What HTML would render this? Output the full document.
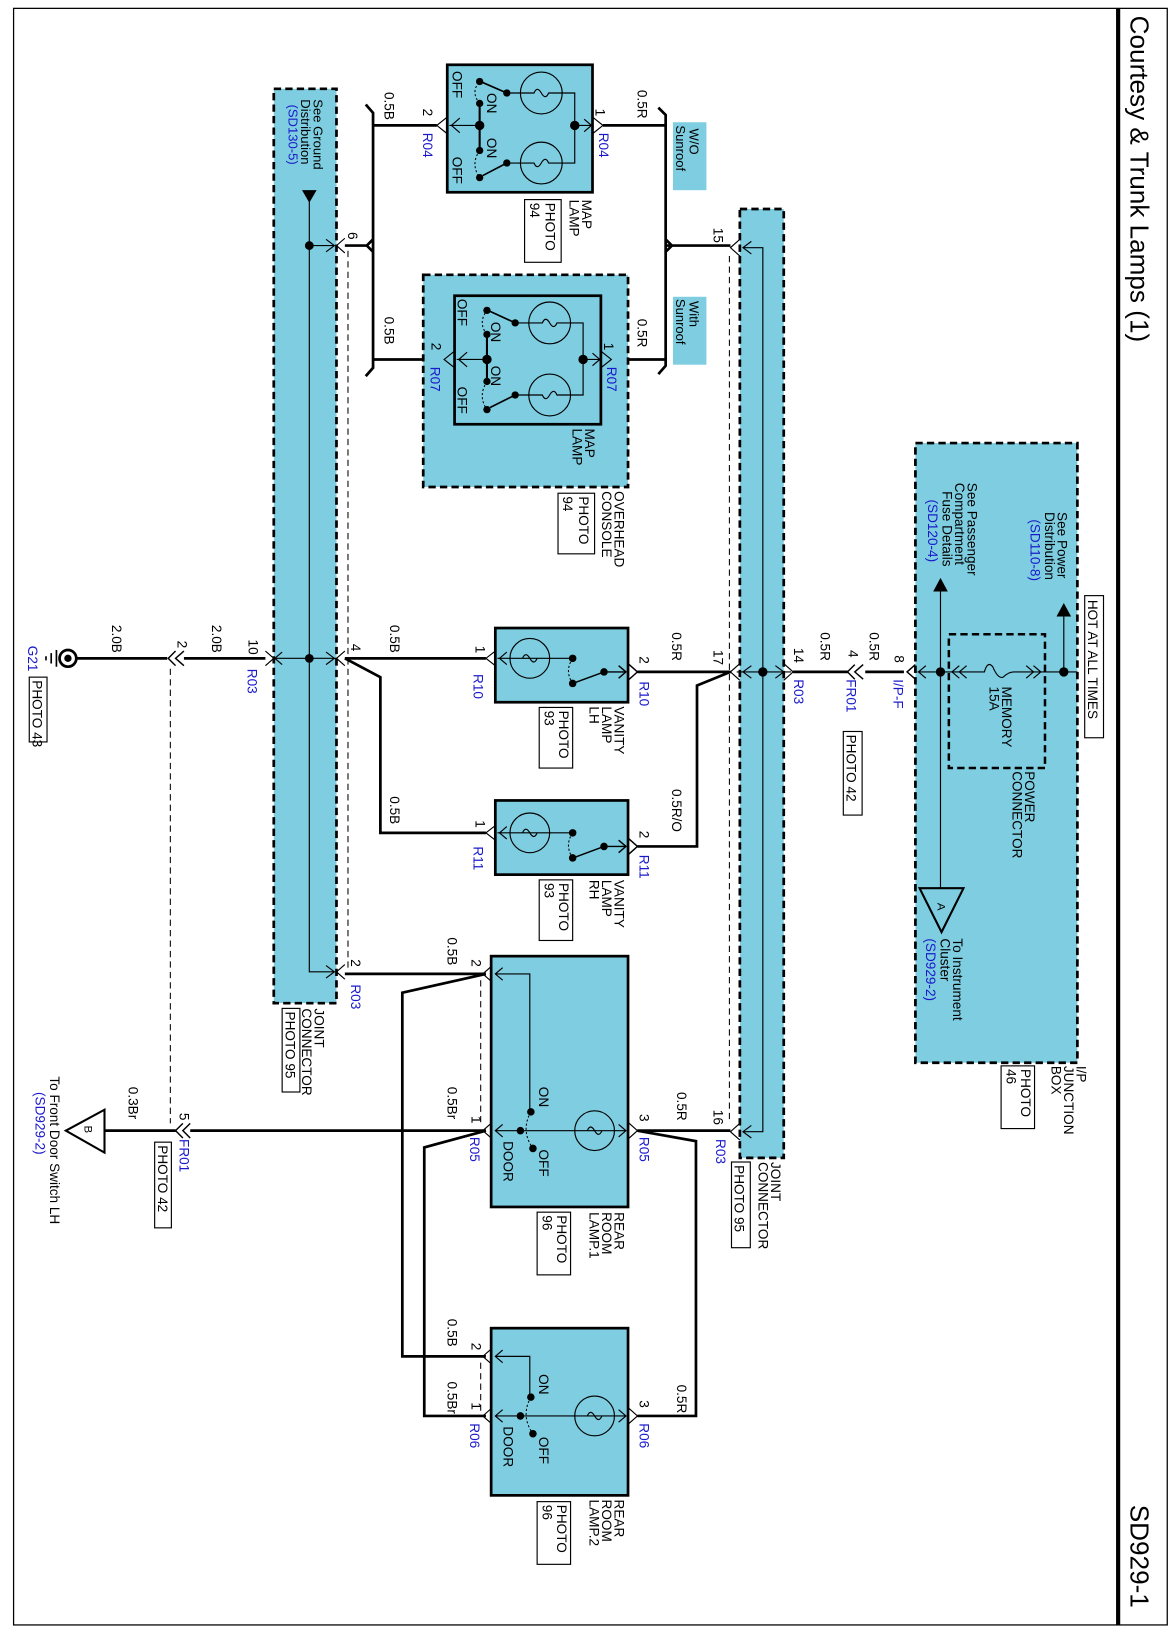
<!DOCTYPE html>
<html><head><meta charset="utf-8"><style>
html,body{margin:0;padding:0;background:#fff;}
svg{display:block;}
text{font-family:"Liberation Sans",sans-serif;font-size:13px;fill:#000;}
.b{fill:#1a1acc;}
.w{stroke:#000;stroke-width:2.6;fill:none;}
.t{stroke:#000;stroke-width:1.1;fill:none;}
.d{stroke:#000;stroke-width:1;fill:none;stroke-dasharray:6,4;}
.box{fill:#7ecde0;stroke:#000;stroke-width:2.6;}
.dbox{fill:#7ecde0;stroke:#000;stroke-width:2.6;stroke-dasharray:7,4;}
.pb{fill:#fff;stroke:#000;stroke-width:1.1;}
</style></head><body>
<svg width="1173" height="1638" viewBox="0 0 1122.5 1567.5" preserveAspectRatio="none" xmlns="http://www.w3.org/2000/svg">
<rect x="13" y="8" width="1104" height="1547" fill="none" stroke="#000" stroke-width="1.2"/>
<line x1="1070" y1="8" x2="1070" y2="1555" stroke="#000" stroke-width="4"/>
<text transform="translate(1082 15) rotate(90)" style="font-size:25px">Courtesy &amp; Trunk Lamps (1)</text>
<text transform="translate(1082 1440) rotate(90)" style="font-size:25px">SD929-1</text>

<!-- Left joint connector -->
<rect class="dbox" x="262" y="85" width="60" height="875"/>
<path class="t" d="M296 190 L296 930 L320 930 M296 235 L320 235 M262 630 L322 630"/>
<path class="t" d="M312 229 L320 235 L312 241 M312 624 L320 630 L312 636 M312 924 L320 930 L312 936 M270 624 L263 630 L270 636"/>
<polygon points="289,182 303,182 296,194" fill="#000"/>
<circle cx="296" cy="235" r="4.2"/><circle cx="296" cy="630" r="4.2"/>
<text transform="translate(300 95) rotate(90)" style="font-size:12.5px">See Ground</text>
<text transform="translate(288 95) rotate(90)" style="font-size:12.5px">Distribution</text>
<text class="b" transform="translate(276 100) rotate(90)" style="font-size:12.5px">(SD130-5)</text>
<line class="d" x1="333" y1="240" x2="333" y2="930"/>
<text transform="translate(301 965) rotate(90)">JOINT</text>
<text transform="translate(289 965) rotate(90)">CONNECTOR</text>
<rect class="pb" x="270" y="965" width="17" height="80"/>
<text transform="translate(273 968) rotate(90)">PHOTO 95</text>

<!-- left connectors outer -->
<path class="t" d="M330 228 L322 235 L330 242 M330 623 L322 630 L330 637 M330 923 L322 930 L330 937"/>
<path class="t" d="M254 623 L262 630 L254 637"/>
<path class="w" d="M330 235 L351 235 M351 235 L357 229 M351 235 L357 241"/>
<path class="w" d="M350 100 L357 108 L357 352 L350 360 M357 120 L418 120 M357 344 L425 344"/>
<text transform="translate(333 222) rotate(90)">6</text>
<text transform="translate(368 88) rotate(90)">0.5B</text>
<text transform="translate(368 303) rotate(90)">0.5B</text>

<!-- MAP LAMP R04 -->
<rect class="box" x="428" y="62" width="139" height="122"/>
<path class="t" d="M428 112 L418 120 L428 128 M440 113 L432 120 L440 127 M430 120 L459 120"/>
<path class="w" d="M459 99 L459 144" style="stroke-width:2"/>
<circle cx="459" cy="120" r="4.5"/>
<circle cx="459" cy="99" r="3.5"/><circle cx="459" cy="144" r="3.5"/><circle cx="459" cy="78" r="3.5"/><circle cx="459" cy="170" r="3.5"/>
<circle cx="485" cy="89" r="3.5"/><circle cx="485" cy="156" r="3.5"/>
<path class="t" d="M485 89 L462 79 M485 156 L462 168" style="stroke-width:1.6"/>
<path class="d" d="M459 99 Q450 88 459 78 M459 144 Q450 157 459 170" style="stroke-dasharray:2,2"/>
<circle class="t" cx="518" cy="89" r="20"/><circle class="t" cx="518" cy="156" r="20"/>
<path class="t" d="M485 89 L511 89 Q514 82 518 89 Q522 96 525 89 L550 89 L550 156 L525 156 Q522 149 518 156 Q514 163 511 156 L485 156 M550 120 L566 120"/>
<circle cx="550" cy="120" r="4.5"/>
<path class="t" d="M559 114 L566 120 L559 126 M567 112 L577 120 L567 128"/>
<text transform="translate(433 68) rotate(90)">OFF</text>
<text transform="translate(466 89) rotate(90)">ON</text>
<text transform="translate(466 132) rotate(90)">ON</text>
<text transform="translate(433 150) rotate(90)">OFF</text>
<text transform="translate(405 104) rotate(90)">2</text>
<text class="b" transform="translate(405 127) rotate(90)">R04</text>
<text transform="translate(570 104) rotate(90)">1</text>
<text class="b" transform="translate(573 127) rotate(90)">R04</text>
<text transform="translate(610 86) rotate(90)">0.5R</text>
<text transform="translate(557 191) rotate(90)">MAP</text>
<text transform="translate(545 191) rotate(90)">LAMP</text>
<rect class="pb" x="502" y="191" width="35" height="60"/>
<text transform="translate(522 194) rotate(90)">PHOTO</text>
<text transform="translate(507 194) rotate(90)">94</text>

<!-- right wiring top -->
<path class="w" d="M577 120 L637 120 M630 103 L637 110 L637 350 L630 358 M585 344 L637 344"/>
<path class="w" d="M637 235 L643 235 L699 235 M637 229 L643 235 L637 241"/>
<rect x="644" y="117" width="32" height="65" fill="#7ecde0"/>
<text transform="translate(660 123) rotate(90)" style="font-size:12.5px">W/O</text>
<text transform="translate(647 120) rotate(90)" style="font-size:12.5px">Sunroof</text>
<rect x="644" y="284" width="32" height="65" fill="#7ecde0"/>
<text transform="translate(660 288) rotate(90)" style="font-size:12.5px">With</text>
<text transform="translate(647 286) rotate(90)" style="font-size:12.5px">Sunroof</text>

<!-- Overhead console -->
<rect class="dbox" x="405" y="263" width="196" height="203"/>
<rect class="box" x="435" y="283" width="140" height="123"/>
<path class="t" d="M435 336 L425 344 L435 352 M447 337 L439 344 L447 351 M437 344 L466 344"/>
<path class="w" d="M466 320 L466 365" style="stroke-width:2"/>
<circle cx="466" cy="344" r="4.5"/>
<circle cx="466" cy="320" r="3.5"/><circle cx="466" cy="365" r="3.5"/><circle cx="466" cy="297" r="3.5"/><circle cx="466" cy="392" r="3.5"/>
<circle cx="493" cy="309" r="3.5"/><circle cx="493" cy="378" r="3.5"/>
<path class="t" d="M493 309 L469 298 M493 378 L469 390" style="stroke-width:1.6"/>
<path class="d" d="M466 320 Q457 309 466 297 M466 365 Q457 379 466 392" style="stroke-dasharray:2,2"/>
<circle class="t" cx="526" cy="309" r="20"/><circle class="t" cx="526" cy="378" r="20"/>
<path class="t" d="M493 309 L519 309 Q522 302 526 309 Q530 316 533 309 L558 309 L558 378 L533 378 Q530 371 526 378 Q522 385 519 378 L493 378 M558 344 L574 344"/>
<circle cx="558" cy="344" r="4.5"/>
<path class="t" d="M567 338 L574 344 L567 350 M575 336 L585 344 L575 352"/>
<text transform="translate(438 286) rotate(90)">OFF</text>
<text transform="translate(470 308) rotate(90)">ON</text>
<text transform="translate(470 350) rotate(90)">ON</text>
<text transform="translate(438 370) rotate(90)">OFF</text>
<text transform="translate(413 328) rotate(90)">2</text>
<text class="b" transform="translate(412 351) rotate(90)">R07</text>
<text transform="translate(578 328) rotate(90)">1</text>
<text class="b" transform="translate(581 351) rotate(90)">R07</text>
<text transform="translate(610 305) rotate(90)">0.5R</text>
<text transform="translate(560 410) rotate(90)">MAP</text>
<text transform="translate(548 410) rotate(90)">LAMP</text>
<text transform="translate(588 470) rotate(90)">OVERHEAD</text>
<text transform="translate(576 470) rotate(90)">CONSOLE</text>
<rect class="pb" x="534" y="472" width="35" height="58"/>
<text transform="translate(554 475) rotate(90)">PHOTO</text>
<text transform="translate(539 475) rotate(90)">94</text>

<!-- Right joint connector -->
<rect class="dbox" x="708" y="200" width="42" height="908"/>
<path class="t" d="M712 237 L730 237 L730 1083 L712 1083 M705 643 L757 643"/>
<path class="t" d="M719 231 L711 237 L719 243 M719 637 L711 643 L719 649 M719 1077 L711 1083 L719 1089 M742 637 L750 643 L742 649"/>
<circle cx="730" cy="643" r="4.5"/>
<path class="t" d="M708 229 L699 237 L708 245 M708 635 L699 643 L708 651 M708 1075 L699 1083 L708 1091 M750 635 L759 643 L750 651"/>
<line class="d" x1="698" y1="245" x2="698" y2="1075"/>
<text transform="translate(683 218) rotate(90)">15</text>
<text transform="translate(683 622) rotate(90)">17</text>
<text transform="translate(683 1062) rotate(90)">16</text>
<text class="b" transform="translate(685 1090) rotate(90)">R03</text>
<text transform="translate(760 620) rotate(90)">14</text>
<text class="b" transform="translate(760 650) rotate(90)">R03</text>
<text transform="translate(738 1112) rotate(90)">JOINT</text>
<text transform="translate(726 1112) rotate(90)">CONNECTOR</text>
<rect class="pb" x="700" y="1112" width="18" height="82"/>
<text transform="translate(703 1115) rotate(90)">PHOTO 95</text>

<!-- Vanity LH -->
<rect class="box" x="474" y="601" width="127" height="71"/>
<path class="t" d="M474 623 L465 630 L474 637 M485 624 L478 630 L485 636 M476 630 L548 630"/>
<circle class="t" cx="507" cy="630" r="19" style="fill:none"/>
<path class="t" d="M500 630 Q503 623 507 630 Q511 637 514 630"/>
<circle cx="548" cy="630" r="3.6"/><circle cx="578" cy="643" r="3.6"/><circle cx="548" cy="654" r="3.6"/>
<path class="t" d="M578 643 L551 653 M578 643 L599 643 M592 637 L599 643 L592 649 M601 635 L610 643 L601 651" style="stroke-width:1.4"/>
<path class="d" d="M548 630 Q540 642 548 654" style="stroke-dasharray:2,2"/>
<text transform="translate(455 618) rotate(90)">1</text>
<text class="b" transform="translate(453 645) rotate(90)">R10</text>
<text transform="translate(612 628) rotate(90)">2</text>
<text class="b" transform="translate(612 652) rotate(90)">R10</text>
<text transform="translate(588 676) rotate(90)">VANITY</text>
<text transform="translate(576 676) rotate(90)">LAMP</text>
<text transform="translate(564 676) rotate(90)">LH</text>
<rect class="pb" x="516" y="677" width="32" height="58"/>
<text transform="translate(535 680) rotate(90)">PHOTO</text>
<text transform="translate(521 680) rotate(90)">93</text>

<!-- Vanity RH -->
<rect class="box" x="474" y="766" width="127" height="71"/>
<path class="t" d="M474 790 L465 797 L474 804 M485 791 L478 797 L485 803 M476 797 L548 797"/>
<circle class="t" cx="507" cy="797" r="19"/>
<path class="t" d="M500 797 Q503 790 507 797 Q511 804 514 797"/>
<circle cx="548" cy="797" r="3.6"/><circle cx="578" cy="810" r="3.6"/><circle cx="548" cy="821" r="3.6"/>
<path class="t" d="M578 810 L551 820 M578 810 L599 810 M592 804 L599 810 L592 816 M601 802 L610 810 L601 818" style="stroke-width:1.4"/>
<path class="d" d="M548 797 Q540 809 548 821" style="stroke-dasharray:2,2"/>
<text transform="translate(455 785) rotate(90)">1</text>
<text class="b" transform="translate(453 810) rotate(90)">R11</text>
<text transform="translate(612 795) rotate(90)">2</text>
<text class="b" transform="translate(612 818) rotate(90)">R11</text>
<text transform="translate(588 842) rotate(90)">VANITY</text>
<text transform="translate(576 842) rotate(90)">LAMP</text>
<text transform="translate(564 842) rotate(90)">RH</text>
<rect class="pb" x="516" y="842" width="32" height="58"/>
<text transform="translate(535 845) rotate(90)">PHOTO</text>
<text transform="translate(521 845) rotate(90)">93</text>

<!-- vanity wiring -->
<path class="w" d="M610 643 L699 643 M699 643 L667 656 L667 810 L610 810"/>
<path class="w" d="M330 630 L465 630 M330 630 L364 648 L364 797 L465 797"/>
<text transform="translate(643 605) rotate(90)">0.5R</text>
<text transform="translate(643 755) rotate(90)">0.5R/O</text>
<text transform="translate(373 598) rotate(90)">0.5B</text>
<text transform="translate(373 762) rotate(90)">0.5B</text>
<text transform="translate(336 616) rotate(90)">4</text>

<!-- power feed -->
<path class="w" d="M759 643 L812 643 M828 643 L865 643"/>
<path class="t" d="M826 636 L818 643 L826 650 M818 636 L811 643 L818 650" style="stroke-width:1.4"/>
<path class="t" d="M876 636 L868 643 L876 650" style="stroke-width:1.4"/>
<text transform="translate(785 605) rotate(90)">0.5R</text>
<text transform="translate(812 622) rotate(90)">4</text>
<text class="b" transform="translate(810 650) rotate(90)">FR01</text>
<rect class="pb" x="807" y="700" width="18" height="80"/>
<text transform="translate(810 703) rotate(90)">PHOTO 42</text>
<text transform="translate(832 605) rotate(90)">0.5R</text>
<text transform="translate(856 627) rotate(90)">8</text>
<text class="b" transform="translate(855 650) rotate(90)">I/P-F</text>

<!-- I/P junction box -->
<rect class="dbox" x="876" y="424" width="155" height="593"/>
<rect x="908" y="607" width="92" height="128" fill="none" stroke="#000" stroke-width="2.4" stroke-dasharray="7,4"/>
<path class="t" d="M878 643 L942 643 Q945 632 950 638 Q955 650 960 648 Q965 643 970 643 L1031 643 M900 555 L900 850 M1018 580 L1018 643"/>
<path class="t" d="M886 637 L879 643 L886 649 M918 637 L911 643 L918 649 M925 637 L918 643 L925 649 M982 637 L989 643 L982 649 M989 637 L996 643 L989 649"/>
<circle cx="900" cy="643" r="4.5"/><circle cx="1018" cy="643" r="4.5"/>
<polygon points="893,566 907,566 900,553" fill="#000"/>
<polygon points="1011,590 1025,590 1018,577" fill="#000"/>
<polygon points="880,850 922,850 901,892" fill="none" stroke="#000" stroke-width="2"/>
<text transform="translate(897 864) rotate(90)" style="font-size:11px">A</text>
<text transform="translate(1012 490) rotate(90)">See Power</text>
<text transform="translate(1000 490) rotate(90)">Distribution</text>
<text class="b" transform="translate(986 497) rotate(90)">(SD110-8)</text>
<text transform="translate(926 462) rotate(90)">See Passenger</text>
<text transform="translate(914 462) rotate(90)">Compartment</text>
<text transform="translate(902 470) rotate(90)">Fuse Details</text>
<text class="b" transform="translate(888 478) rotate(90)">(SD120-4)</text>
<text transform="translate(959 657) rotate(90)">MEMORY</text>
<text transform="translate(947 657) rotate(90)">15A</text>
<text transform="translate(981 738) rotate(90)">POWER</text>
<text transform="translate(969 738) rotate(90)">CONNECTOR</text>
<text transform="translate(912 898) rotate(90)">To Instrument</text>
<text transform="translate(900 898) rotate(90)">Cluster</text>
<text class="b" transform="translate(886 898) rotate(90)">(SD929-2)</text>
<rect class="pb" x="1038" y="570" width="18" height="136"/>
<text transform="translate(1041 574) rotate(90)">HOT AT ALL TIMES</text>
<text transform="translate(1030 1020) rotate(90)">I/P</text>
<text transform="translate(1018 1020) rotate(90)">JUNCTION</text>
<text transform="translate(1006 1020) rotate(90)">BOX</text>
<rect class="pb" x="958" y="1020" width="32" height="60"/>
<text transform="translate(977 1023) rotate(90)">PHOTO</text>
<text transform="translate(963 1023) rotate(90)">46</text>

<!-- Ground -->
<path class="w" d="M72 630 L160 630 M176 630 L254 630"/>
<path class="t" d="M176 623 L168 630 L176 637 M168 623 L161 630 L168 637" style="stroke-width:1.4"/>
<circle cx="65" cy="630" r="8" fill="#fff" stroke="#000" stroke-width="2.6"/>
<circle cx="65" cy="630" r="3.5"/>
<path class="t" d="M54 622 L54 638 M49 625 L49 635 M44 628 L44 632" style="stroke-width:1.6"/>
<text class="b" transform="translate(27 618) rotate(90)">G21</text>
<rect class="pb" x="28" y="648" width="17" height="62"/>
<text transform="translate(31 651) rotate(90)">PHOTO 43</text>
<text transform="translate(107 598) rotate(90)">2.0B</text>
<text transform="translate(203 598) rotate(90)">2.0B</text>
<text transform="translate(170 613) rotate(90)">2</text>
<text transform="translate(238 612) rotate(90)">10</text>
<text class="b" transform="translate(237 640) rotate(90)">R03</text>
<line class="d" x1="163" y1="640" x2="163" y2="1075"/>

<!-- Rear room wiring -->
<path class="w" d="M330 932 L465 932 M465 932 L385 950 L385 1298 L465 1298"/>
<path class="w" d="M465 1082 L406 1098 L406 1355 L465 1355"/>
<path class="w" d="M100 1082 L168 1082 M182 1082 L465 1082"/>
<path class="t" d="M182 1075 L175 1082 L182 1089 M175 1075 L168 1082 L175 1089" style="stroke-width:1.4"/>
<path class="w" d="M610 1082 L699 1082 M610 1082 L666 1092 L666 1355 L610 1355"/>
<text transform="translate(336 918) rotate(90)">2</text>
<text class="b" transform="translate(336 942) rotate(90)">R03</text>
<text transform="translate(428 897) rotate(90)">0.5B</text>
<text transform="translate(428 1040) rotate(90)">0.5Br</text>
<text transform="translate(428 1262) rotate(90)">0.5B</text>
<text transform="translate(428 1322) rotate(90)">0.5Br</text>
<text transform="translate(648 1045) rotate(90)">0.5R</text>
<text transform="translate(648 1325) rotate(90)">0.5R</text>
<text transform="translate(123 1040) rotate(90)">0.3Br</text>
<text transform="translate(172 1065) rotate(90)">5</text>
<text class="b" transform="translate(172 1090) rotate(90)">FR01</text>
<rect class="pb" x="148" y="1093" width="16" height="82"/>
<text transform="translate(151 1096) rotate(90)">PHOTO 42</text>
<polygon points="100,1062 100,1103 63,1082" fill="#fff" stroke="#000" stroke-width="2"/>
<text transform="translate(81 1077) rotate(90)" style="font-size:11px">B</text>
<text transform="translate(48 1030) rotate(90)">To Front Door Switch LH</text>
<text class="b" transform="translate(34 1045) rotate(90)">(SD929-2)</text>

<!-- Rear room lamp 1 -->
<rect class="box" x="470" y="915" width="131" height="240"/>
<line class="d" x1="460" y1="938" x2="460" y2="1078"/>
<path class="t" d="M470 925 L462 932 L470 939 M481 926 L474 932 L481 938 M474 932 L507 932 L507 1064"/>
<path class="t" d="M470 1075 L462 1082 L470 1089 M481 1076 L474 1082 L481 1088 M474 1082 L599 1082 M592 1076 L599 1082 L592 1088 M601 1074 L610 1082 L601 1090"/>
<circle class="t" cx="569" cy="1082" r="19"/>
<path class="t" d="M562 1082 Q565 1075 569 1082 Q573 1089 576 1082"/>
<circle cx="498" cy="1082" r="3.6"/><circle cx="508" cy="1064" r="3.6"/><circle cx="510" cy="1099" r="3.6"/>
<path class="d" d="M508 1064 Q498 1082 510 1099" style="stroke-dasharray:2,2"/>
<text transform="translate(516 1040) rotate(90)">ON</text>
<text transform="translate(516 1100) rotate(90)">OFF</text>
<text transform="translate(482 1092) rotate(90)">DOOR</text>
<text transform="translate(451 918) rotate(90)">2</text>
<text transform="translate(451 1068) rotate(90)">1</text>
<text class="b" transform="translate(450 1088) rotate(90)">R05</text>
<text transform="translate(612 1066) rotate(90)">3</text>
<text class="b" transform="translate(612 1088) rotate(90)">R05</text>
<text transform="translate(588 1160) rotate(90)">REAR</text>
<text transform="translate(576 1160) rotate(90)">ROOM</text>
<text transform="translate(564 1160) rotate(90)">LAMP.1</text>
<rect class="pb" x="514" y="1160" width="32" height="60"/>
<text transform="translate(533 1163) rotate(90)">PHOTO</text>
<text transform="translate(519 1163) rotate(90)">96</text>

<!-- Rear room lamp 2 -->
<rect class="box" x="470" y="1271" width="131" height="160"/>
<line class="d" x1="460" y1="1304" x2="460" y2="1350"/>
<path class="t" d="M470 1291 L462 1298 L470 1305 M481 1292 L474 1298 L481 1304 M474 1298 L507 1298 L507 1337"/>
<path class="t" d="M470 1348 L462 1355 L470 1362 M481 1349 L474 1355 L481 1361 M474 1355 L599 1355 M592 1349 L599 1355 L592 1361 M601 1347 L610 1355 L601 1363"/>
<circle class="t" cx="569" cy="1355" r="19"/>
<path class="t" d="M562 1355 Q565 1348 569 1355 Q573 1362 576 1355"/>
<circle cx="498" cy="1355" r="3.6"/><circle cx="508" cy="1337" r="3.6"/><circle cx="510" cy="1372" r="3.6"/>
<path class="d" d="M508 1337 Q498 1355 510 1372" style="stroke-dasharray:2,2"/>
<text transform="translate(516 1315) rotate(90)">ON</text>
<text transform="translate(516 1375) rotate(90)">OFF</text>
<text transform="translate(482 1365) rotate(90)">DOOR</text>
<text transform="translate(451 1285) rotate(90)">2</text>
<text transform="translate(451 1342) rotate(90)">1</text>
<text class="b" transform="translate(450 1362) rotate(90)">R06</text>
<text transform="translate(612 1340) rotate(90)">3</text>
<text class="b" transform="translate(612 1362) rotate(90)">R06</text>
<text transform="translate(588 1435) rotate(90)">REAR</text>
<text transform="translate(576 1435) rotate(90)">ROOM</text>
<text transform="translate(564 1435) rotate(90)">LAMP.2</text>
<rect class="pb" x="514" y="1437" width="32" height="60"/>
<text transform="translate(533 1440) rotate(90)">PHOTO</text>
<text transform="translate(519 1440) rotate(90)">96</text>
</svg>
</body></html>
